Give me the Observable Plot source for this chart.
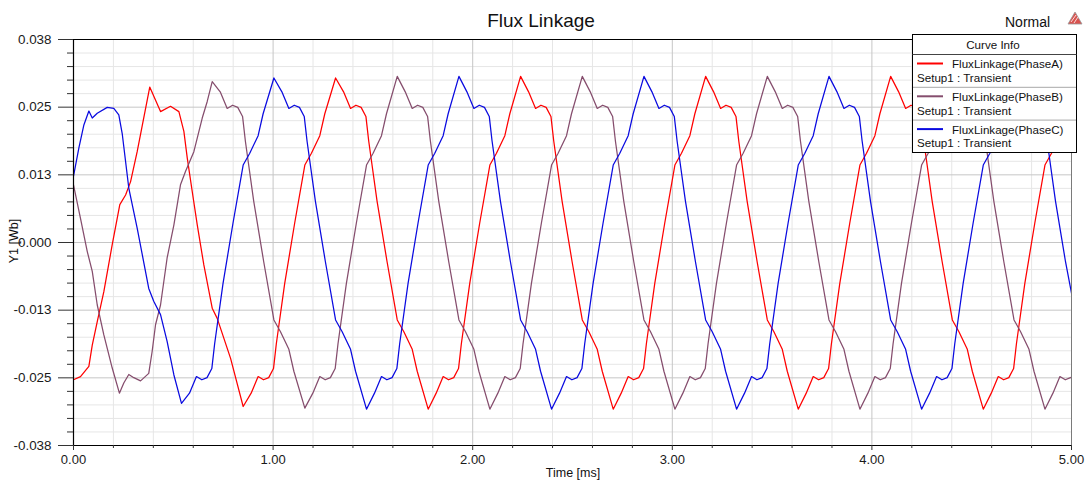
<!DOCTYPE html>
<html>
<head>
<meta charset="utf-8">
<script src="https://cdn.jsdelivr.net/npm/d3@7"></script>
<script src="https://cdn.jsdelivr.net/npm/@observablehq/plot@0.6"></script>
<style>
  html, body { margin: 0; padding: 0; background: #fff; }
  #wrap { position: relative; width: 1091px; height: 481px; overflow: hidden; font-family: "Liberation Sans", Arial, sans-serif; }
  #wrap > svg { position: absolute; left: 0; top: 0; }
</style>
</head>
<body>
<div id="wrap"></div>
<script>
// ---------- data ----------
const chartTitle = "Flux Linkage";
const xLabel = "Time [ms]";
const yLabel = "Y1 [Wb]";
const viewMode = "Normal";
const legendTitle = "Curve Info";
const seriesNames = ["FluxLinkage(PhaseA)", "FluxLinkage(PhaseB)", "FluxLinkage(PhaseC)"];
const seriesSetup = "Setup1 : Transient";
const seriesColors = ["#ff0000", "#854d6d", "#0a0ae0"];

const xTickValues = [0, 1, 2, 3, 4, 5];
const xTickLabels = ["0.00", "1.00", "2.00", "3.00", "4.00", "5.00"];
const xMinorValues = [0.2,0.4,0.6,0.8,1.2,1.4,1.6,1.8,2.2,2.4,2.6,2.8,3.2,3.4,3.6,3.8,4.2,4.4,4.6,4.8];
const yTickValues = [-0.038, -0.025333, -0.012667, 0, 0.012667, 0.025333, 0.038];
const yTickLabels = ["-0.038", "-0.025", "-0.013", "0.000", "0.013", "0.025", "0.038"];
const yMinorValues = [-0.035467,-0.032933,-0.0304,-0.027867,-0.0228,-0.020267,-0.017733,-0.0152,
  -0.010133,-0.0076,-0.005067,-0.002533,0.002533,0.005067,0.0076,0.010133,
  0.0152,0.017733,0.020267,0.0228,0.027867,0.0304,0.032933,0.035467];

// Phase A (red)
const timeA = [0.000,0.035,0.077,0.094,0.119,0.152,0.194,0.232,0.261,0.286,0.319,0.382,0.436,0.486,0.528,0.553,0.570,0.595,0.620,0.653,0.695,0.720,0.787,
 0.850,0.890,0.925,0.952,0.978,1.002,1.016,1.058,1.108,1.159,1.192,1.234,1.259,
 1.313,1.353,1.388,1.415,1.441,1.465,1.479,1.521,1.571,1.622,1.655,1.697,1.722,
 1.777,1.817,1.852,1.879,1.905,1.929,1.943,1.985,2.035,2.086,2.119,2.161,2.186,
 2.240,2.280,2.315,2.342,2.368,2.392,2.406,2.448,2.498,2.549,2.582,2.624,2.649,
 2.704,2.744,2.779,2.806,2.832,2.856,2.870,2.912,2.962,3.013,3.046,3.088,3.113,
 3.167,3.207,3.242,3.269,3.295,3.319,3.333,3.375,3.425,3.476,3.509,3.551,3.576,
 3.631,3.671,3.706,3.733,3.759,3.783,3.797,3.839,3.889,3.940,3.973,4.015,4.040,
 4.094,4.134,4.169,4.196,4.222,4.246,4.260,4.302,4.352,4.403,4.436,4.478,4.503,
 4.558,4.598,4.633,4.660,4.686,4.710,4.724,4.766,4.816,4.867,4.900,4.942,4.967,5.000];
const fluxA = [-0.0257,-0.0251,-0.0232,-0.0192,-0.0148,-0.0092,-0.0004,0.0071,0.0089,0.0114,0.0170,0.0291,0.0245,0.0255,0.0245,0.0208,0.0158,0.0095,0.0033,-0.0042,-0.0123,-0.0142,-0.0217,
 -0.0307,-0.0282,-0.0251,-0.0257,-0.0253,-0.0236,-0.0190,-0.0077,0.0036,0.0145,0.0167,0.0200,0.0241,
 0.0308,0.0282,0.0251,0.0257,0.0253,0.0236,0.0190,0.0077,-0.0036,-0.0145,-0.0167,-0.0200,-0.0241,
 -0.0312,-0.0282,-0.0251,-0.0257,-0.0253,-0.0236,-0.0190,-0.0077,0.0036,0.0145,0.0167,0.0200,0.0241,
 0.0311,0.0282,0.0251,0.0257,0.0253,0.0236,0.0190,0.0077,-0.0036,-0.0145,-0.0167,-0.0200,-0.0241,
 -0.0312,-0.0282,-0.0251,-0.0257,-0.0253,-0.0236,-0.0190,-0.0077,0.0036,0.0145,0.0167,0.0200,0.0241,
 0.0311,0.0282,0.0251,0.0257,0.0253,0.0236,0.0190,0.0077,-0.0036,-0.0145,-0.0167,-0.0200,-0.0241,
 -0.0312,-0.0282,-0.0251,-0.0257,-0.0253,-0.0236,-0.0190,-0.0077,0.0036,0.0145,0.0167,0.0200,0.0241,
 0.0311,0.0282,0.0251,0.0257,0.0253,0.0236,0.0190,0.0077,-0.0036,-0.0145,-0.0167,-0.0200,-0.0241,
 -0.0312,-0.0282,-0.0251,-0.0257,-0.0253,-0.0236,-0.0190,-0.0077,0.0036,0.0145,0.0167,0.0200,0.0241,0.0284];

// Phase B (mauve)
const timeB = [0.000,0.035,0.069,0.094,0.119,0.152,0.194,0.230,0.252,0.277,0.302,0.336,0.377,0.394,0.411,0.436,0.469,0.503,0.536,0.561,0.603,0.645,0.670,0.695,
 0.735,0.770,0.797,0.823,0.847,0.861,0.903,0.953,1.004,1.037,1.079,1.104,
 1.159,1.199,1.234,1.261,1.287,1.311,1.325,1.367,1.417,1.468,1.501,1.543,1.568,
 1.622,1.662,1.697,1.724,1.750,1.774,1.788,1.830,1.880,1.931,1.964,2.006,2.031,
 2.086,2.126,2.161,2.188,2.214,2.238,2.252,2.294,2.344,2.395,2.428,2.470,2.495,
 2.549,2.589,2.624,2.651,2.677,2.701,2.715,2.757,2.807,2.858,2.891,2.933,2.958,
 3.013,3.053,3.088,3.115,3.141,3.165,3.179,3.221,3.271,3.322,3.355,3.397,3.422,
 3.476,3.516,3.551,3.578,3.604,3.628,3.642,3.684,3.734,3.785,3.818,3.860,3.885,
 3.940,3.980,4.015,4.042,4.068,4.092,4.106,4.148,4.198,4.249,4.282,4.324,4.349,
 4.403,4.443,4.478,4.505,4.531,4.555,4.569,4.611,4.661,4.712,4.745,4.787,4.812,
 4.867,4.907,4.942,4.969,4.995,5.000];
const fluxB = [0.0108,0.0045,-0.0017,-0.0054,-0.0117,-0.0173,-0.0235,-0.0282,-0.0263,-0.0247,-0.0253,-0.0259,-0.0245,-0.0204,-0.0154,-0.0117,-0.0029,0.0033,0.0108,0.0133,0.0170,0.0233,0.0264,0.0301,
 0.0282,0.0251,0.0257,0.0253,0.0236,0.0190,0.0077,-0.0036,-0.0145,-0.0167,-0.0200,-0.0241,
 -0.0310,-0.0282,-0.0251,-0.0257,-0.0253,-0.0236,-0.0190,-0.0077,0.0036,0.0145,0.0167,0.0200,0.0241,
 0.0311,0.0282,0.0251,0.0257,0.0253,0.0236,0.0190,0.0077,-0.0036,-0.0145,-0.0167,-0.0200,-0.0241,
 -0.0312,-0.0282,-0.0251,-0.0257,-0.0253,-0.0236,-0.0190,-0.0077,0.0036,0.0145,0.0167,0.0200,0.0241,
 0.0311,0.0282,0.0251,0.0257,0.0253,0.0236,0.0190,0.0077,-0.0036,-0.0145,-0.0167,-0.0200,-0.0241,
 -0.0312,-0.0282,-0.0251,-0.0257,-0.0253,-0.0236,-0.0190,-0.0077,0.0036,0.0145,0.0167,0.0200,0.0241,
 0.0311,0.0282,0.0251,0.0257,0.0253,0.0236,0.0190,0.0077,-0.0036,-0.0145,-0.0167,-0.0200,-0.0241,
 -0.0312,-0.0282,-0.0251,-0.0257,-0.0253,-0.0236,-0.0190,-0.0077,0.0036,0.0145,0.0167,0.0200,0.0241,
 0.0311,0.0282,0.0251,0.0257,0.0253,0.0236,0.0190,0.0077,-0.0036,-0.0145,-0.0167,-0.0200,-0.0241,
 -0.0312,-0.0282,-0.0251,-0.0257,-0.0253,-0.0252];

// Phase C (blue)
const timeC = [0.000,0.027,0.052,0.077,0.094,0.119,0.169,0.202,0.227,0.244,0.277,0.319,0.377,0.402,0.436,0.469,0.503,0.541,
 0.581,0.616,0.643,0.669,0.693,0.707,0.749,0.799,0.850,0.883,0.925,0.950,
 1.004,1.044,1.079,1.106,1.132,1.156,1.170,1.212,1.262,1.313,1.346,1.388,1.413,
 1.468,1.508,1.543,1.570,1.596,1.620,1.634,1.676,1.726,1.777,1.810,1.852,1.877,
 1.931,1.971,2.006,2.033,2.059,2.083,2.097,2.139,2.189,2.240,2.273,2.315,2.340,
 2.395,2.435,2.470,2.497,2.523,2.547,2.561,2.603,2.653,2.704,2.737,2.779,2.804,
 2.858,2.898,2.933,2.960,2.986,3.010,3.024,3.066,3.116,3.167,3.200,3.242,3.267,
 3.322,3.362,3.397,3.424,3.450,3.474,3.488,3.530,3.580,3.631,3.664,3.706,3.731,
 3.785,3.825,3.860,3.887,3.913,3.937,3.951,3.993,4.043,4.094,4.127,4.169,4.194,
 4.249,4.289,4.324,4.351,4.377,4.401,4.415,4.457,4.507,4.558,4.591,4.633,4.658,
 4.712,4.752,4.787,4.814,4.840,4.864,4.878,4.920,4.970,5.000];
const fluxC = [0.0124,0.0177,0.0220,0.0246,0.0233,0.0242,0.0253,0.0251,0.0239,0.0204,0.0102,0.0027,-0.0086,-0.0110,-0.0135,-0.0185,-0.0248,-0.0301,
 -0.0282,-0.0251,-0.0257,-0.0253,-0.0236,-0.0190,-0.0077,0.0036,0.0145,0.0167,0.0200,0.0241,
 0.0308,0.0282,0.0251,0.0257,0.0253,0.0236,0.0190,0.0077,-0.0036,-0.0145,-0.0167,-0.0200,-0.0241,
 -0.0312,-0.0282,-0.0251,-0.0257,-0.0253,-0.0236,-0.0190,-0.0077,0.0036,0.0145,0.0167,0.0200,0.0241,
 0.0311,0.0282,0.0251,0.0257,0.0253,0.0236,0.0190,0.0077,-0.0036,-0.0145,-0.0167,-0.0200,-0.0241,
 -0.0312,-0.0282,-0.0251,-0.0257,-0.0253,-0.0236,-0.0190,-0.0077,0.0036,0.0145,0.0167,0.0200,0.0241,
 0.0311,0.0282,0.0251,0.0257,0.0253,0.0236,0.0190,0.0077,-0.0036,-0.0145,-0.0167,-0.0200,-0.0241,
 -0.0312,-0.0282,-0.0251,-0.0257,-0.0253,-0.0236,-0.0190,-0.0077,0.0036,0.0145,0.0167,0.0200,0.0241,
 0.0311,0.0282,0.0251,0.0257,0.0253,0.0236,0.0190,0.0077,-0.0036,-0.0145,-0.0167,-0.0200,-0.0241,
 -0.0312,-0.0282,-0.0251,-0.0257,-0.0253,-0.0236,-0.0190,-0.0077,0.0036,0.0145,0.0167,0.0200,0.0241,
 0.0311,0.0282,0.0251,0.0257,0.0253,0.0236,0.0190,0.0077,-0.0036,-0.0095];

// ---------- build ----------
const times = [timeA, timeB, timeC];
const fluxes = [fluxA, fluxB, fluxC];
const rows = seriesNames.map((name, k) => times[k].map((t, i) => ({t, v: fluxes[k][i], name})));

const font = '"Liberation Sans", Arial, sans-serif';
const yFmt = d => {
  let best = 0;
  yTickValues.forEach((v, i) => { if (Math.abs(v - d) < Math.abs(yTickValues[best] - d)) best = i; });
  return yTickLabels[best];
};
const xFmt = d => xTickLabels[xTickValues.indexOf(d)];

const chart = Plot.plot({
  width: 1091,
  height: 481,
  marginLeft: 73,
  marginRight: 20,
  marginTop: 39,
  marginBottom: 36,
  x: {domain: [0, 5], label: null},
  y: {domain: [-0.038, 0.038], label: null},
  style: {fontFamily: font, background: "#fff", color: "#1a1a1a"},
  marks: [
    Plot.ruleX(xMinorValues, {stroke: "#e6e6e6", strokeWidth: 1}),
    Plot.ruleY(yMinorValues, {stroke: "#e6e6e6", strokeWidth: 1}),
    Plot.ruleX(xTickValues, {stroke: "#c6c6c6", strokeWidth: 1}),
    Plot.ruleY(yTickValues, {stroke: "#c6c6c6", strokeWidth: 1}),
    ...rows.map((r, k) => Plot.line(r, {x: "t", y: "v", stroke: seriesColors[k], strokeWidth: 1.25, clip: true})),
    Plot.ruleX([5], {stroke: "#7a7a7a", strokeWidth: 1}),
    Plot.ruleX([0], {stroke: "#000", strokeWidth: 1.2}),
    Plot.ruleY([-0.038], {stroke: "#000", strokeWidth: 1.2}),
    Plot.ruleY([0.038], {stroke: "#000", strokeWidth: 1.2}),
    Plot.axisY({ticks: yMinorValues, tickSize: 6, tickFormat: () => "", label: null, stroke: "#333"}),
    Plot.axisY({ticks: yTickValues, tickSize: 15, tickPadding: 7, tickFormat: yFmt, label: null, fontSize: 13.4, stroke: "#333", fill: "#1a1a1a"}),
    Plot.axisX({ticks: xMinorValues, tickSize: 3, tickFormat: () => "", label: null, stroke: "#333"}),
    Plot.axisX({ticks: xTickValues, tickSize: 5, tickPadding: 4, tickFormat: xFmt, label: null, fontSize: 13, stroke: "#333", fill: "#1a1a1a"})
  ]
});
document.getElementById("wrap").appendChild(chart);

// ---------- overlay: titles, labels, legend ----------
const ov = d3.select("#wrap").append("svg")
  .attr("width", 1091).attr("height", 481)
  .style("font-family", font).style("pointer-events", "none");

ov.append("text").attr("x", 541).attr("y", 27).attr("text-anchor", "middle")
  .attr("font-size", 19).attr("fill", "#111").text(chartTitle);
ov.append("text").attr("x", 1005).attr("y", 27).attr("font-size", 14).attr("fill", "#111").text(viewMode);
// small logo mark
ov.append("path").attr("d", "M1068,24 L1075,12 L1082,24 Z").attr("fill", "#d9534f").attr("stroke", "#999").attr("stroke-width", 0.8);
ov.append("path").attr("d", "M1071,22 L1076,15 M1074,23 L1078,17").attr("stroke", "#fff").attr("stroke-width", 0.8);

ov.append("text").attr("x", 573).attr("y", 476.5).attr("text-anchor", "middle")
  .attr("font-size", 12.5).attr("fill", "#111").text(xLabel);
ov.append("text").attr("transform", "translate(18,241) rotate(-90)").attr("text-anchor", "middle")
  .attr("font-size", 12.5).attr("fill", "#111").text(yLabel);

// legend box
const lg = ov.append("g");
lg.append("rect").attr("x", 912.5).attr("y", 34.5).attr("width", 164).attr("height", 118)
  .attr("fill", "#fff").attr("stroke", "#000").attr("stroke-width", 1);
lg.append("text").attr("x", 993).attr("y", 48.5).attr("text-anchor", "middle")
  .attr("font-size", 11.6).attr("fill", "#111").text(legendTitle);
lg.append("line").attr("x1", 912.5).attr("x2", 1076.5).attr("y1", 54.5).attr("y2", 54.5).attr("stroke", "#444");
seriesNames.forEach((name, i) => {
  const dy = i * 32.8;
  if (i > 0) lg.append("line").attr("x1", 913).attr("x2", 1076).attr("y1", 54.5 + dy).attr("y2", 54.5 + dy).attr("stroke", "#a8a8a8");
  lg.append("line").attr("x1", 917).attr("x2", 943).attr("y1", 63.5 + dy).attr("y2", 63.5 + dy)
    .attr("stroke", seriesColors[i]).attr("stroke-width", 2);
  lg.append("text").attr("x", 952).attr("y", 68.3 + dy).attr("font-size", 11.6).attr("fill", "#111").text(name);
  lg.append("text").attr("x", 917).attr("y", 81.7 + dy).attr("font-size", 11.6).attr("fill", "#111").text(seriesSetup);
});
</script>
</body>
</html>
